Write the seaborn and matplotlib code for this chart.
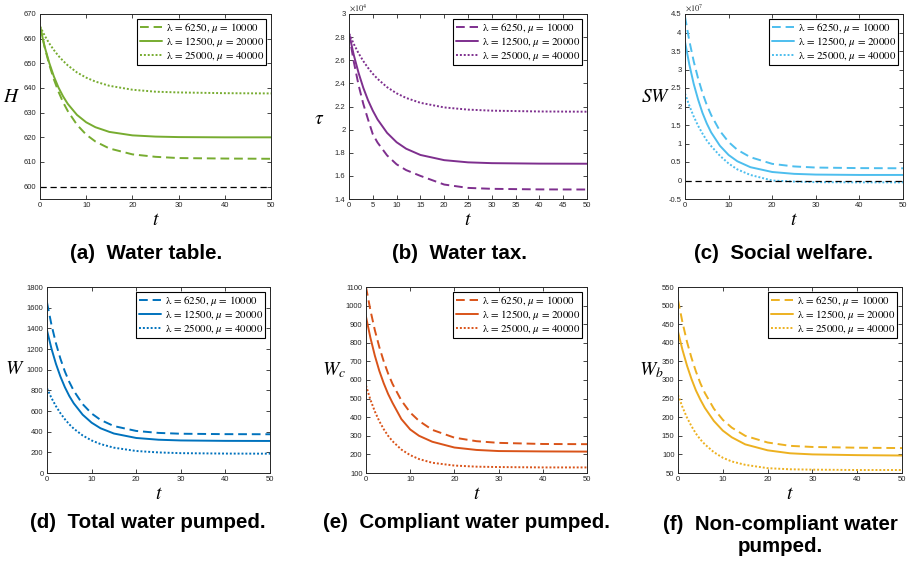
import numpy as np
import pandas as pd
import seaborn as sns
import matplotlib
matplotlib.use("Agg")
import matplotlib.pyplot as plt
from matplotlib.ticker import FuncFormatter

sns.set_style("ticks")
plt.rcParams['font.family'] = ['Liberation Sans', 'DejaVu Sans']
plt.rcParams['mathtext.fontset'] = 'stix'

# ---------------- data ----------------
t = [0, 1, 2, 3, 4, 5, 6, 8, 10, 12, 15, 20, 25, 30, 40, 50]
series_labels = ["λ = 6250, $\\mu$ = 10000",
                 "λ = 12500, $\\mu$ = 20000",
                 "λ = 25000, $\\mu$ = 40000"]

# (a) water table H
H_6250 = [665, 656.6, 649.5, 643.5, 638.5, 634.2, 630.7, 625.1, 621.1, 618.3, 615.5, 613.1, 612.1, 611.6, 611.4, 611.3]
H_12500 = [665, 656.8, 650.2, 644.7, 640.2, 636.6, 633.6, 629.1, 626.1, 624.1, 622.2, 620.8, 620.3, 620.1, 620.0, 620.0]
H_25000 = [665, 661.3, 658.1, 655.4, 653.0, 651.0, 649.2, 646.3, 644.2, 642.6, 640.9, 639.3, 638.5, 638.2, 637.9, 637.8]
H_ref = 600

# (b) water tax tau (x 10^4)
tau_6250 = [2.832, 2.588, 2.387, 2.223, 2.088, 1.96, 1.888, 1.777, 1.70, 1.65, 1.60, 1.525, 1.496, 1.488, 1.483, 1.482]
tau_12500 = [2.832, 2.646, 2.492, 2.362, 2.254, 2.164, 2.088, 1.972, 1.891, 1.835, 1.781, 1.736, 1.717, 1.710, 1.706, 1.705]
tau_25000 = [2.832, 2.741, 2.661, 2.593, 2.534, 2.483, 2.439, 2.367, 2.314, 2.274, 2.232, 2.192, 2.173, 2.164, 2.157, 2.155]

# (c) social welfare SW (x 10^7)
SW_6250 = [4.43, 3.77, 3.22, 2.76, 2.37, 2.04, 1.77, 1.34, 1.04, 0.83, 0.63, 0.45, 0.38, 0.35, 0.335, 0.33]
SW_12500 = [3.75, 3.13, 2.61, 2.19, 1.83, 1.54, 1.30, 0.94, 0.69, 0.52, 0.36, 0.23, 0.18, 0.16, 0.15, 0.15]
SW_25000 = [2.35, 2.02, 1.73, 1.48, 1.27, 1.08, 0.93, 0.67, 0.46, 0.30, 0.15, 0.0, -0.03, -0.045, -0.05, -0.05]
SW_ref = 0

# (d) total water pumped W
W_6250 = [1650, 1435, 1256, 1107, 983, 881, 796, 666, 576, 514, 454, 407, 388, 380, 376, 375]
W_12500 = [1380, 1204, 1057, 934, 831, 745, 674, 564, 487, 433, 382, 339, 322, 315, 311, 310]
W_25000 = [820, 726, 647, 579, 521, 471, 429, 363, 315, 280, 245, 213, 199, 192, 188, 187]

# (e) compliant water pumped Wc
Wc_6250 = [1100, 975, 868, 778, 701, 635, 579, 490, 425, 380, 332, 290, 271, 262, 256, 255]
Wc_12500 = [940, 827, 731, 650, 583, 525, 477, 390, 334, 300, 268, 237, 224, 218, 216, 215]
Wc_25000 = [570, 494, 431, 379, 336, 300, 271, 226, 196, 175, 155, 140, 134, 132, 130, 130]

# (f) non-compliant water pumped Wb
Wb_6250 = [515, 455, 403, 360, 323, 291, 265, 223, 193, 172, 150, 132, 123, 120, 118, 117]
Wb_12500 = [430, 381, 339, 303, 272, 247, 225, 190, 164, 146, 127, 111, 103, 100, 98, 97]
Wb_25000 = [260, 227, 199, 176, 156, 140, 127, 106, 91, 81, 72, 63, 60, 59, 58, 58]

captions = ["(a)  Water table.", "(b)  Water tax.", "(c)  Social welfare.",
            "(d)  Total water pumped.", "(e)  Compliant water pumped.",
            "(f)  Non-compliant water\npumped."]
ylabels = [r"$H$", r"$\tau$", r"$SW$", r"$W$", r"$W_c$", r"$W_b$"]
colors = ["#77AC30", "#7E2F8E", "#4DBEEE", "#0072BD", "#D95319", "#EDB120"]

panels = [
    dict(ys=[H_6250, H_12500, H_25000], ylim=(595, 670), yticks=np.arange(600, 671, 10),
         xticks=np.arange(0, 51, 10), ref=H_ref, pos=[40, 14, 271, 199], offset=None,
         ylab=(12, 97), cap=(146, 253)),
    dict(ys=[tau_6250, tau_12500, tau_25000], ylim=(1.4, 3.0), yticks=np.arange(1.4, 3.01, 0.2),
         xticks=np.arange(0, 51, 5), ref=None, pos=[349, 14, 587, 199], offset=r"$\times10^{4}$",
         ylab=(319, 120), cap=(460, 253)),
    dict(ys=[SW_6250, SW_12500, SW_25000], ylim=(-0.5, 4.5), yticks=np.arange(-0.5, 4.51, 0.5),
         xticks=np.arange(0, 51, 10), ref=SW_ref, pos=[685, 14, 903, 199], offset=r"$\times10^{7}$",
         ylab=(656, 97), cap=(784, 253)),
    dict(ys=[W_6250, W_12500, W_25000], ylim=(0, 1800), yticks=np.arange(0, 1801, 200),
         xticks=np.arange(0, 51, 10), ref=None, pos=[47, 287, 270, 473], offset=None,
         ylab=(15, 370), cap=(148, 522)),
    dict(ys=[Wc_6250, Wc_12500, Wc_25000], ylim=(100, 1100), yticks=np.arange(100, 1101, 100),
         xticks=np.arange(0, 51, 10), ref=None, pos=[366, 287, 587, 473], offset=None,
         ylab=(334, 370), cap=(467, 522)),
    dict(ys=[Wb_6250, Wb_12500, Wb_25000], ylim=(50, 550), yticks=np.arange(50, 551, 50),
         xticks=np.arange(0, 51, 10), ref=None, pos=[678, 287, 902, 473], offset=None,
         ylab=(651, 370), cap=(780, 535)),
]

W_PX, H_PX = 910, 564
fig = plt.figure(figsize=(W_PX / 100, H_PX / 100), dpi=100)

styles = [(0, (4.5, 2.5)), "-", (0, (1, 1))]

def fmt(v, pos):
    return "%g" % round(v, 6)

for i, p in enumerate(panels):
    l, tp, r, b = p["pos"]
    ax = fig.add_axes([l / W_PX, 1 - b / H_PX, (r - l) / W_PX, (b - tp) / H_PX])
    for ys, ls, lab in zip(p["ys"], styles, series_labels):
        sns.lineplot(x=t, y=ys, ax=ax, color=colors[i], linestyle=ls, lw=1.4,
                     label=lab, sort=False)
    if p["ref"] is not None:
        ax.axhline(p["ref"], color="black", lw=0.9, linestyle=(0, (5, 3)))
    ax.set_xlim(0, 50)
    ax.set_ylim(*p["ylim"])
    ax.set_xticks(p["xticks"])
    ax.set_yticks(p["yticks"])
    ax.yaxis.set_major_formatter(FuncFormatter(fmt))
    ax.tick_params(direction="in", top=True, right=True, labelsize=5.5,
                   length=3, width=0.6, colors="#262626", pad=2.5)
    for sp in ax.spines.values():
        sp.set_linewidth(0.7)
        sp.set_color("#262626")
    ax.set_xlabel(r"$t$", fontsize=14, labelpad=1.5, color="black")
    ax.set_ylabel("")
    fig.text(p["ylab"][0] / W_PX, 1 - p["ylab"][1] / H_PX, ylabels[i],
             fontsize=14, ha="center", va="center", color="black")
    if p["offset"]:
        ax.text(0.0, 1.004, p["offset"], transform=ax.transAxes, fontsize=6,
                ha="left", va="bottom", color="#262626")
    leg = ax.legend(loc="upper right", frameon=True, fancybox=False, edgecolor="black",
                    framealpha=1, prop={"family": "STIXGeneral", "size": 7.8},
                    handlelength=2.1, borderaxespad=0.45, labelspacing=0.0,
                    borderpad=0.2, handletextpad=0.3)
    leg.get_frame().set_linewidth(0.8)
    for txt in leg.get_texts():
        txt.set_color("black")
    fig.text(p["cap"][0] / W_PX, 1 - p["cap"][1] / H_PX, captions[i],
             family=["Liberation Sans", "DejaVu Sans"],
             fontweight="bold", fontsize=14.8, ha="center", va="center",
             linespacing=1.2, color="black")

fig.savefig("out.png", dpi=100)
